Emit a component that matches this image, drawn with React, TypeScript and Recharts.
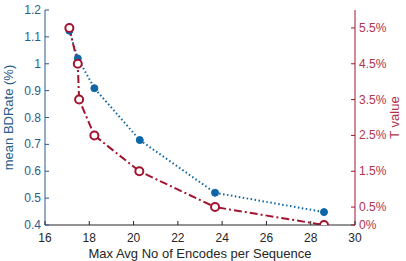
import { LineChart, Line, XAxis, YAxis, Label } from 'recharts'

// mean BDRate curve (left axis)
const bdX = [17.1, 17.48, 18.23, 20.28, 23.68, 28.6]
const bdRate = [1.123, 1.02, 0.909, 0.716, 0.52, 0.448]

// T value curve (right axis, in %)
const tX = [17.1, 17.48, 17.54, 18.23, 20.26, 23.68, 28.6]
const tValue = [5.5, 4.5, 3.5, 2.5, 1.5, 0.5, 0]

const xTicks = [16, 18, 20, 22, 24, 26, 28, 30]
const leftTicks = [0.4, 0.5, 0.6, 0.7, 0.8, 0.9, 1, 1.1, 1.2]
const rightTicks = [0, 0.5, 1.5, 2.5, 3.5, 4.5, 5.5]

const BLUE = '#0d66a6'
const BLUE_TEXT = '#2a5d8a'
const RED = '#a2142f'
const RED_TEXT = '#b2334b'
const FONT = '"Liberation Sans", Arial, sans-serif'

const bdData = bdX.map((x, i) => ({ x, v: bdRate[i] }))
const tData = tX.map((x, i) => ({ x, v: tValue[i] }))

const BottomTick = (props: any) => {
  const { x, y, payload } = props
  return (
    <g>
      <line x1={x} x2={x} y1={y} y2={y - 4} stroke="#262626" />
      <text x={x} y={y + 17} textAnchor="middle" fontSize={12} fontFamily={FONT} fill="#262626">
        {payload.value}
      </text>
    </g>
  )
}

const TopTick = (props: any) => {
  const { x, y } = props
  return <line x1={x} x2={x} y1={y} y2={y + 4} stroke="#262626" />
}

const LeftTick = (props: any) => {
  const { x, y, payload } = props
  return (
    <g>
      <line x1={x} x2={x + 4} y1={y} y2={y} stroke={BLUE_TEXT} />
      <text x={x - 4} y={y + 4} textAnchor="end" fontSize={12} fontFamily={FONT} fill={BLUE_TEXT}>
        {payload.value}
      </text>
    </g>
  )
}

const RightTick = (props: any) => {
  const { x, y, payload } = props
  return (
    <g>
      <line x1={x} x2={x - 4} y1={y} y2={y} stroke={RED} />
      <text x={x + 4} y={y + 4} textAnchor="start" fontSize={12} fontFamily={FONT} fill={RED_TEXT}>
        {payload.value + '%'}
      </text>
    </g>
  )
}

const OpenCircle = (props: any) => {
  const { cx, cy } = props
  return <circle cx={cx} cy={cy} r={4} fill="#fff" stroke={RED} strokeWidth={2} />
}

const FilledDot = (props: any) => {
  const { cx, cy } = props
  return <circle cx={cx} cy={cy} r={3.5} fill={BLUE} stroke={BLUE} strokeWidth={1} />
}

export default function App() {
  return (
    <div style={{ position: 'absolute', left: 0, top: 0, background: '#fff' }}>
      <LineChart width={406} height={261} margin={{ top: 10, right: 0, bottom: 0, left: 0 }}>
        <XAxis
          xAxisId="bottom"
          type="number"
          dataKey="x"
          domain={[16, 30]}
          ticks={xTicks}
          interval={0}
          height={36}
          tickSize={0}
          tickMargin={0}
          tickLine={false}
          axisLine={{ stroke: '#262626' }}
          tick={<BottomTick />}
          allowDataOverflow
        >
          <Label
            content={(p: any) => {
              const vb = p.viewBox
              return (
                <text x={vb.x + vb.width / 2} y={vb.y + 33} textAnchor="middle" fontSize={13} fontFamily={FONT} fill="#262626">
                  Max Avg No of Encodes per Sequence
                </text>
              )
            }}
          />
        </XAxis>
        <XAxis
          xAxisId="top"
          orientation="top"
          type="number"
          dataKey="x"
          domain={[16, 30]}
          ticks={xTicks}
          interval={0}
          height={0}
          tickSize={0}
          tickMargin={0}
          tickLine={false}
          axisLine={{ stroke: '#808080' }}
          tick={<TopTick />}
        />
        <YAxis
          yAxisId="left"
          orientation="left"
          domain={[0.4, 1.2]}
          ticks={leftTicks}
          interval={0}
          width={45}
          tickSize={0}
          tickMargin={0}
          tickLine={false}
          axisLine={{ stroke: BLUE_TEXT }}
          tick={<LeftTick />}
          allowDataOverflow
        >
          <Label
            content={(p: any) => {
              const vb = p.viewBox
              const cx = 13
              const cy = vb.y + vb.height / 2
              return (
                <text x={cx} y={cy} transform={`rotate(-90 ${cx} ${cy})`} textAnchor="middle" fontSize={13} fontFamily={FONT} fill={BLUE_TEXT}>
                  mean BDRate (%)
                </text>
              )
            }}
          />
        </YAxis>
        <YAxis
          yAxisId="right"
          orientation="right"
          domain={[0, 6]}
          ticks={rightTicks}
          interval={0}
          width={51}
          tickSize={0}
          tickMargin={0}
          tickLine={false}
          axisLine={{ stroke: RED }}
          tick={<RightTick />}
          allowDataOverflow
        >
          <Label
            content={(p: any) => {
              const vb = p.viewBox
              const cx = 399
              const cy = vb.y + vb.height / 2
              return (
                <text x={cx} y={cy} transform={`rotate(-90 ${cx} ${cy})`} textAnchor="middle" fontSize={13} fontFamily={FONT} fill={RED_TEXT}>
                  T value
                </text>
              )
            }}
          />
        </YAxis>
        <Line
          data={bdData}
          xAxisId="bottom"
          yAxisId="left"
          dataKey="v"
          type="linear"
          stroke={BLUE}
          strokeWidth={2}
          strokeDasharray="1.5 2.5"
          dot={<FilledDot />}
          activeDot={false}
          isAnimationActive={false}
        />
        <Line
          data={tData}
          xAxisId="bottom"
          yAxisId="right"
          dataKey="v"
          type="linear"
          stroke={RED}
          strokeWidth={2}
          strokeDasharray="8 3 2 3"
          dot={<OpenCircle />}
          activeDot={false}
          isAnimationActive={false}
        />
      </LineChart>
    </div>
  )
}
